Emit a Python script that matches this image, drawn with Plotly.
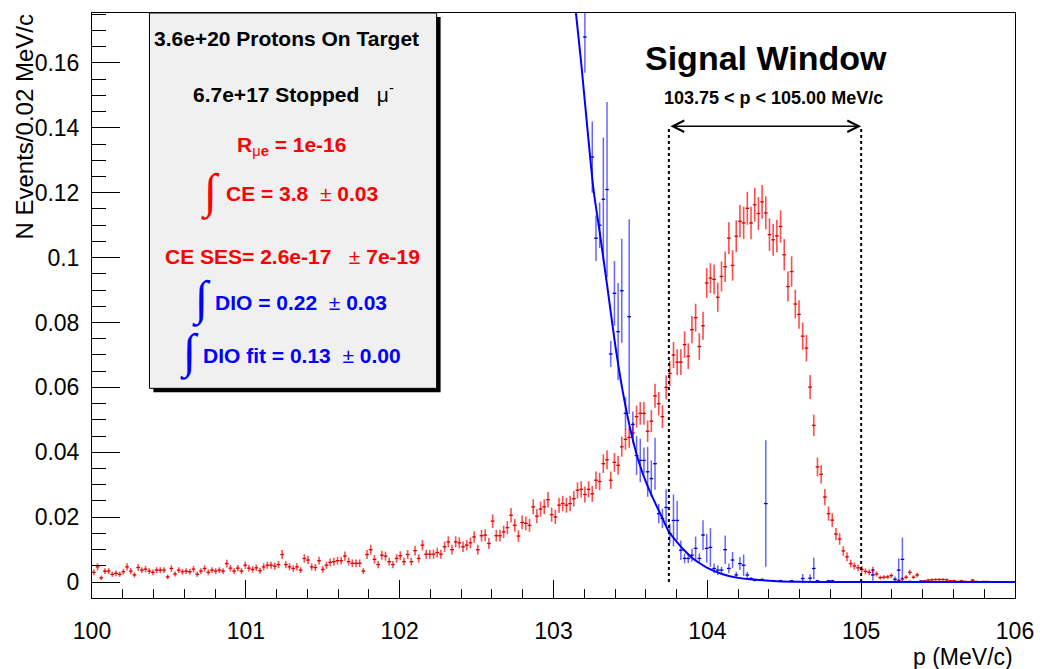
import numpy as np
import plotly.graph_objects as go

# ---------------- data ----------------
p_lo, p_hi, n_bins = 100.0, 106.0, 250   # histogram binning (MeV/c)

# CE (red) histogram contents, one value per bin
red_vals = [
    0.0030, 0.0047, 0.0013, 0.0034, 0.0034, 0.0024, 0.0027, 0.0024, 0.0032, 0.0047,
    0.0034, 0.0022, 0.0045, 0.0037, 0.0040, 0.0034, 0.0030, 0.0037, 0.0037, 0.0037,
    0.0016, 0.0042, 0.0025, 0.0037, 0.0032, 0.0034, 0.0032, 0.0040, 0.0024, 0.0034,
    0.0042, 0.0030, 0.0037, 0.0034, 0.0037, 0.0034, 0.0057, 0.0043, 0.0034, 0.0043,
    0.0034, 0.0052, 0.0043, 0.0039, 0.0044, 0.0035, 0.0047, 0.0052, 0.0052, 0.0049,
    0.0054, 0.0085, 0.0054, 0.0047, 0.0042, 0.0047, 0.0037, 0.0073, 0.0068, 0.0047,
    0.0045, 0.0066, 0.0039, 0.0052, 0.0061, 0.0063, 0.0066, 0.0066, 0.0080, 0.0063,
    0.0058, 0.0058, 0.0058, 0.0034, 0.0085, 0.0100, 0.0070, 0.0054, 0.0083, 0.0080,
    0.0063, 0.0054, 0.0073, 0.0081, 0.0063, 0.0085, 0.0063, 0.0097, 0.0073, 0.0114,
    0.0086, 0.0086, 0.0086, 0.0091, 0.0086, 0.0109, 0.0124, 0.0100, 0.0124, 0.0121,
    0.0109, 0.0114, 0.0121, 0.0139, 0.0100, 0.0143, 0.0145, 0.0119, 0.0188, 0.0143,
    0.0143, 0.0155, 0.0168, 0.0206, 0.0175, 0.0142, 0.0184, 0.0181, 0.0175, 0.0232,
    0.0203, 0.0225, 0.0232, 0.0254, 0.0208, 0.0201, 0.0237, 0.0242, 0.0237, 0.0242,
    0.0257, 0.0283, 0.0286, 0.0270, 0.0286, 0.0272, 0.0314, 0.0310, 0.0365, 0.0377,
    0.0314, 0.0369, 0.0360, 0.0417, 0.0440, 0.0446, 0.0460, 0.0510, 0.0520, 0.0520,
    0.0465, 0.0496, 0.0574, 0.0550, 0.0510, 0.0600, 0.0643, 0.0700, 0.0678, 0.0678,
    0.0732, 0.0696, 0.0778, 0.0815, 0.0726, 0.0790, 0.0922, 0.0937, 0.0933, 0.0878,
    0.0942, 0.0972, 0.1060, 0.0976, 0.1066, 0.1112, 0.1107, 0.1152, 0.1107, 0.1163,
    0.1136, 0.1172, 0.1138, 0.1071, 0.1055, 0.1067, 0.1096, 0.1009, 0.0911, 0.0957,
    0.0857, 0.0825, 0.0758, 0.0721, 0.0601, 0.0483, 0.0355, 0.0332, 0.0262, 0.0211,
    0.0191, 0.0148, 0.0133, 0.0096, 0.0078, 0.0057, 0.0050, 0.0044, 0.0039, 0.0033,
    0.0030, 0.0037, 0.0025, 0.0014, 0.0015, 0.0016, 0.0020, 0.0002, 0.0005, 0.0010,
    0.0015, 0.0030, 0.0015, 0.0022, 0.0002, 0.0004, 0.0006, 0.0007, 0.0008, 0.0008,
    0.0008, 0.0007, 0.0004, 0.0004, 0.0002, 0.0004, 0.0002, 0.0001, 0.0006, 0.0002,
    0.0001, 0.0002, 0.0002, 0.0001, 0.0000, 0.0001, 0.0000, 0.0000, 0.0000, 0.0000,
]
red_err = [
    0.0009, 0.0011, 0.0007, 0.0009, 0.0009, 0.0008, 0.0009, 0.0008, 0.0009, 0.0011,
    0.0009, 0.0008, 0.0011, 0.0009, 0.0010, 0.0009, 0.0009, 0.0009, 0.0009, 0.0009,
    0.0007, 0.0010, 0.0008, 0.0009, 0.0009, 0.0009, 0.0009, 0.0010, 0.0008, 0.0009,
    0.0010, 0.0009, 0.0009, 0.0009, 0.0009, 0.0009, 0.0012, 0.0010, 0.0009, 0.0010,
    0.0009, 0.0011, 0.0010, 0.0010, 0.0010, 0.0009, 0.0011, 0.0011, 0.0011, 0.0011,
    0.0011, 0.0014, 0.0011, 0.0011, 0.0010, 0.0011, 0.0009, 0.0013, 0.0013, 0.0011,
    0.0011, 0.0012, 0.0010, 0.0011, 0.0012, 0.0012, 0.0012, 0.0012, 0.0014, 0.0012,
    0.0012, 0.0012, 0.0012, 0.0009, 0.0014, 0.0015, 0.0013, 0.0011, 0.0014, 0.0014,
    0.0012, 0.0011, 0.0013, 0.0014, 0.0012, 0.0014, 0.0012, 0.0015, 0.0013, 0.0016,
    0.0014, 0.0014, 0.0014, 0.0015, 0.0014, 0.0016, 0.0017, 0.0015, 0.0017, 0.0017,
    0.0016, 0.0016, 0.0017, 0.0018, 0.0015, 0.0018, 0.0018, 0.0017, 0.0021, 0.0018,
    0.0018, 0.0019, 0.0020, 0.0022, 0.0020, 0.0018, 0.0021, 0.0021, 0.0020, 0.0023,
    0.0022, 0.0023, 0.0023, 0.0024, 0.0022, 0.0022, 0.0023, 0.0024, 0.0023, 0.0024,
    0.0024, 0.0025, 0.0025, 0.0025, 0.0025, 0.0025, 0.0027, 0.0027, 0.0029, 0.0029,
    0.0027, 0.0029, 0.0029, 0.0031, 0.0032, 0.0032, 0.0033, 0.0034, 0.0035, 0.0035,
    0.0033, 0.0034, 0.0037, 0.0036, 0.0035, 0.0037, 0.0039, 0.0040, 0.0040, 0.0040,
    0.0041, 0.0040, 0.0042, 0.0043, 0.0041, 0.0043, 0.0046, 0.0046, 0.0046, 0.0045,
    0.0046, 0.0047, 0.0049, 0.0047, 0.0049, 0.0050, 0.0050, 0.0051, 0.0050, 0.0052,
    0.0051, 0.0052, 0.0051, 0.0050, 0.0049, 0.0050, 0.0050, 0.0048, 0.0046, 0.0047,
    0.0044, 0.0044, 0.0042, 0.0041, 0.0037, 0.0033, 0.0029, 0.0028, 0.0025, 0.0022,
    0.0021, 0.0019, 0.0018, 0.0015, 0.0014, 0.0012, 0.0011, 0.0010, 0.0010, 0.0009,
    0.0009, 0.0010, 0.0008, 0.0006, 0.0006, 0.0006, 0.0007, 0.0002, 0.0004, 0.0005,
    0.0006, 0.0008, 0.0006, 0.0007, 0.0002, 0.0003, 0.0004, 0.0004, 0.0004, 0.0004,
    0.0004, 0.0004, 0.0003, 0.0003, 0.0002, 0.0003, 0.0002, 0.0001, 0.0004, 0.0002,
    0.0001, 0.0002, 0.0002, 0.0001, 0.0000, 0.0001, 0.0000, 0.0000, 0.0000, 0.0000,
]

# DIO (blue) histogram: non-empty bins only
blue_bin = [133, 135, 136, 137, 138, 139, 140, 141, 142, 143,
            144, 145, 146, 147, 148, 149, 150, 151, 152, 153,
            154, 155, 156, 157, 158, 159, 160, 161, 162, 163,
            164, 165, 166, 167, 168, 169, 170, 171, 172, 173,
            174, 175, 176, 177, 178, 179, 181, 182, 184, 186,
            189, 192, 194, 195, 196, 199, 200, 211, 217, 218,
            219, 221, 224]
blue_vals = [0.168, 0.131, 0.106, 0.110, 0.118, 0.121, 0.0703, 0.0890, 0.0772, 0.0898,
             0.052, 0.0818, 0.0486, 0.039, 0.0375, 0.0375, 0.034, 0.0319, 0.0365, 0.0211,
             0.0196, 0.023, 0.015, 0.019, 0.019, 0.0098, 0.0073, 0.0073, 0.0083, 0.0104,
             0.0073, 0.0145, 0.0104, 0.0107, 0.0042, 0.0037, 0.0037, 0.010, 0.0042, 0.0068,
             0.0022, 0.0057, 0.0052, 0.0022, 0.0011, 0.0006, 0.0008, 0.0242, 0.0004, 0.0004,
             0.0004, 0.0011, 0.0012, 0.0042, 0.0004, 0.0004, 0.0004, 0.0022, 0.0009, 0.0037,
             0.0070, 0.0002, 0.0003]
blue_err = [0.011, 0.011, 0.007, 0.007, 0.019, 0.027, 0.004, 0.010, 0.015, 0.016,
            0.005, 0.030, 0.004, 0.006, 0.0067, 0.004, 0.0077, 0.0056, 0.008, 0.003,
            0.003, 0.0056, 0.003, 0.008, 0.006, 0.003, 0.0015, 0.0015, 0.002, 0.0036,
            0.0015, 0.0046, 0.0044, 0.006, 0.0015, 0.0015, 0.001, 0.0044, 0.0015, 0.0025,
            0.001, 0.002, 0.0033, 0.001, 0.0005, 0.0004, 0.0004, 0.0195, 0.0003, 0.0003,
            0.0003, 0.0014, 0.0012, 0.0033, 0.0003, 0.0003, 0.0003, 0.0018, 0.0008, 0.0036,
            0.0067, 0.0002, 0.0003]

# DIO fit curve
fit_p = [103.14, 103.18, 103.22, 103.26, 103.30, 103.35, 103.40, 103.45, 103.50,
         103.55, 103.60, 103.65, 103.70, 103.75, 103.80, 103.85, 103.90, 103.95,
         104.00, 104.10, 104.20, 104.30, 104.45, 104.60, 104.80, 105.00, 105.50, 106.00]
fit_v = [0.178, 0.160, 0.140, 0.121, 0.108, 0.091, 0.0735, 0.0588, 0.047,
         0.0378, 0.031, 0.0255, 0.0205, 0.0155, 0.0125, 0.0098, 0.0075, 0.0058,
         0.0044, 0.0024, 0.0013, 0.0008, 0.0003, 0.0001, 0.00003, 0.0, 0.0, 0.0]

window_lo, window_hi = 103.75, 105.00
arrow_y = 0.1405

x_ticks = [100, 101, 102, 103, 104, 105, 106]

# ---------------- figure ----------------
bw = (p_hi - p_lo) / n_bins
centers = p_lo + (np.arange(n_bins) + 0.5) * bw
blue_x = [centers[i] for i in blue_bin]

W, H = 1046, 669
L, R, T, B = 92, 1024, 12, 598
def px(x):
    return (x - L) / (R - L)
def py(y):
    return (B - y) / (B - T)

FONT = "Liberation Sans, Arial, Helvetica, sans-serif"
RED = "#ff0000"
BLUE = "#0000ff"

fig = go.Figure()
fig.add_trace(go.Scatter(
    x=centers, y=red_vals, mode="markers",
    marker=dict(size=1, color=RED),
    error_y=dict(type="data", array=red_err, color="rgba(255,0,0,0.7)", thickness=1.6, width=0),
    error_x=dict(type="constant", value=bw / 2, color="#d00000", thickness=1.3, width=0),
    hoverinfo="skip"))
fig.add_trace(go.Scatter(
    x=blue_x, y=blue_vals, mode="markers",
    marker=dict(size=1, color=BLUE),
    error_y=dict(type="data", array=blue_err, color="rgba(0,0,255,0.6)", thickness=1.5, width=0),
    error_x=dict(type="constant", value=bw / 2, color="#0000cc", thickness=1.3, width=0),
    hoverinfo="skip"))
fig.add_trace(go.Scatter(
    x=fit_p, y=fit_v, mode="lines",
    line=dict(color=BLUE, width=2, shape="spline", smoothing=0.6),
    hoverinfo="skip"))

shapes = [
    # pave shadow + pave
    dict(type="rect", xref="paper", yref="paper", x0=px(154), x1=px(444), y0=py(392), y1=py(16),
         fillcolor="black", line=dict(width=0), layer="above"),
    dict(type="rect", xref="paper", yref="paper", x0=px(150), x1=px(440), y0=py(388), y1=py(12),
         fillcolor="#f0f0f0", line=dict(color="black", width=1), layer="above"),
    # signal window boundaries
    dict(type="line", xref="x", yref="y", x0=window_lo, x1=window_lo, y0=0, y1=arrow_y,
         line=dict(color="black", width=2, dash="dot")),
    dict(type="line", xref="x", yref="y", x0=window_hi, x1=window_hi, y0=0, y1=arrow_y,
         line=dict(color="black", width=2, dash="dot")),
]

INT_FONT = "Liberation Serif, DejaVu Serif, serif"
def ann(x, y, text, size=21, color="black", family=FONT, weight="normal"):
    return dict(xref="paper", yref="paper", x=px(x), y=py(y), text=text, showarrow=False,
                xanchor="center", yanchor="middle",
                font=dict(size=size, color=color, family=family, weight=weight))

S = "\u00a0"
annotations = [
    ann(288, 38, "<b>3.6e+20 Protons On Target</b>"),
    ann(295, 92, "<b>6.7e+17 Stopped</b>" + S * 3 + "μ<sup>-</sup>"),
    ann(293, 145, "<b>R</b><sub>μ<b>e</b></sub><b> = 1e-16</b>", color=RED),
    ann(212, 191, "∫", size=48, color=RED, family=INT_FONT),
    ann(304, 193, "<b>CE = 3.8</b>" + S * 2 + "± <b>0.03</b>", color=RED),
    ann(294, 256, "<b>CE SES= 2.6e-17</b>" + S * 3 + "± <b>7e-19</b>", color=RED),
    ann(203, 298, "∫", size=48, color=BLUE, family=INT_FONT),
    ann(303.5, 302, "<b>DIO = 0.22</b>" + S * 2 + "± <b>0.03</b>", color=BLUE),
    ann(190, 352, "∫", size=48, color=BLUE, family=INT_FONT),
    ann(304, 355, "<b>DIO fit = 0.13</b>" + S * 2 + "± <b>0.00</b>", color=BLUE),
    ann(773, 57, "<b>Signal Window</b>", size=34),
    ann(780, 97, "<b>103.75 < p < 105.00 MeV/c</b>", size=18),
    # axis titles
    dict(xref="paper", yref="paper", x=0, y=1, xshift=-68, xanchor="center", yanchor="top",
         text="N Events/0.02 MeV/c", textangle=-90, showarrow=False,
         font=dict(size=24, family=FONT, color="black")),
    dict(xref="paper", yref="paper", x=1, y=0, yshift=-59, xanchor="right", yanchor="middle",
         text="p (MeV/c)", showarrow=False, font=dict(size=23, family=FONT, color="black")),
    # double arrow
    dict(xref="x", yref="y", axref="x", ayref="y", x=window_hi, y=arrow_y,
         ax=window_lo, ay=arrow_y, text="", showarrow=True, arrowside="end+start",
         arrowhead=5, startarrowhead=5, arrowwidth=1.4, arrowsize=1.6, startarrowsize=1.6,
         arrowcolor="black", standoff=0, startstandoff=0),
]

fig.update_layout(
    width=W, height=H,
    margin=dict(l=L, r=W - R, t=T, b=H - B, pad=0),
    paper_bgcolor="white", plot_bgcolor="white",
    showlegend=False,
    font=dict(family=FONT, color="black", size=23),
    shapes=shapes, annotations=annotations,
    xaxis=dict(range=[p_lo, p_hi], tickmode="array", tickvals=x_ticks,
               ticktext=[str(t) for t in x_ticks], ticklabeloverflow="allow",
               ticks="inside", ticklen=18, tickwidth=1, tickcolor="black",
               minor=dict(dtick=0.2, tick0=100, ticks="inside", ticklen=9, tickcolor="black", tickwidth=1),
               showline=True, linecolor="black", linewidth=1, mirror=True,
               showgrid=False, zeroline=False, tickfont=dict(size=23), ticklabelstandoff=12),
    yaxis=dict(range=[-0.0049, 0.1754], tick0=0, dtick=0.02,
               ticks="inside", ticklen=28, tickwidth=1, tickcolor="black",
               minor=dict(dtick=0.005, tick0=0, ticks="inside", ticklen=14, tickcolor="black", tickwidth=1),
               showline=True, linecolor="black", linewidth=1, mirror=True,
               showgrid=False, zeroline=False, tickfont=dict(size=23), ticklabelstandoff=7),
)

fig.write_html("out.html")
